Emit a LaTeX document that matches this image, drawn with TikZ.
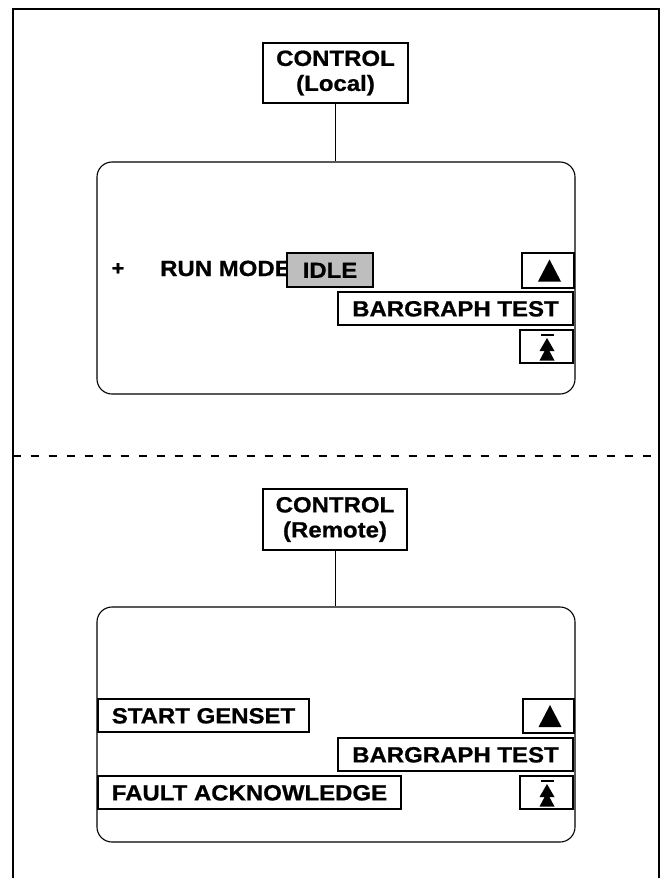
\documentclass[tikz,border=0pt]{standalone}
\usepackage{fontspec}
\setmainfont{Liberation Sans}[FakeStretch=1.09, BoldFeatures={FakeBold=0.8}]
\newcommand{\lbf}{\fontsize{22}{25}\selectfont\bfseries}
\begin{document}
\begin{tikzpicture}[x=1pt,y=-1pt,
  lbl/.style={draw, line width=1.7pt, fill=white, inner sep=0pt, font=\lbf,
    text height=15.8pt, text depth=0pt},
  ctl/.style={draw, line width=1.7pt, fill=white, inner sep=0pt, font=\lbf, align=center},
  scr/.style={draw, line width=1.1pt, rounded corners=15pt, fill=white, inner sep=0pt},
  link/.style={draw, line width=0.8pt},
  glyph/.style={fill=black}]
\useasboundingbox (0,0) rectangle (661,878);
% outer frame
\draw[line width=2pt] (12.5,880) -- (12.5,8.5) -- (659,8.5) -- (659,880);
% dashed separator
\coordinate (dl) at (12.5,456);
\coordinate (dr) at (659,456);
\draw[line width=2pt, dash pattern=on 8pt off 10pt] (dl) -- (dr);

% ---------- top (Local) ----------
\node[scr, minimum width=478pt, minimum height=232pt] (scrT) at (336,278) {};
\node[ctl, minimum width=145pt, minimum height=60pt] (ctlL) at (335.5,73) {CONTROL\\(Local)};
\draw[link] (ctlL.south) -- (ctlL.south |- scrT.north);

\node[font=\fontsize{20}{22}\selectfont\bfseries, inner sep=0pt] (plus) at (118,269) {+};
\node[font=\lbf, inner sep=0pt, anchor=base west] (run) at (160,276) {RUN MODE};
\node[lbl, fill={rgb,255:red,190;green,190;blue,190}, minimum width=86pt, minimum height=34pt] (idle) at (330,270) {IDLE};
\node[lbl, minimum width=52pt, minimum height=35pt] (upT) at (548,270.5) {};
\node[lbl, minimum width=235pt, minimum height=33pt] (bgT) at (455.5,308.5) {BARGRAPH TEST};
\node[lbl, minimum width=53pt, minimum height=33pt] (ttT) at (546.5,346.5) {};

% ---------- bottom (Remote) ----------
\node[scr, minimum width=478pt, minimum height=235pt] (scrB) at (336,724.5) {};
\node[ctl, minimum width=144pt, minimum height=61pt] (ctlR) at (335,519.5) {CONTROL\\(Remote)};
\draw[link] (ctlR.south) -- (ctlR.south |- scrB.north);

\node[lbl, minimum width=211pt, minimum height=33pt] (start) at (203.5,715.5) {START GENSET};
\node[lbl, minimum width=51pt, minimum height=34pt] (upB) at (548.5,716) {};
\node[lbl, minimum width=235pt, minimum height=33pt] (bgB) at (455.5,754.5) {BARGRAPH TEST};
\node[lbl, minimum width=303pt, minimum height=33pt] (fault) at (249.5,792.5) {FAULT ACKNOWLEDGE};
\node[lbl, minimum width=53pt, minimum height=33pt] (ttB) at (546.5,792.5) {};

% glyphs: up triangles
\foreach \n in {upT,upB}{
  \fill[glyph] (\n.center) ++(1.5,-11) -- ++(11.5,22) -- ++(-23,0) -- cycle;
}
% glyphs: to-top (bar + two triangles)
\foreach \n in {ttT,ttB}{
  \fill[glyph] (\n.center) ++(-6,-11) rectangle ++(13,-1.8);
  \fill[glyph] (\n.center) ++(0.5,-8.5) -- ++(7.5,13) -- ++(-15,0) -- cycle;
  \fill[glyph] (\n.center) ++(0.5,0) -- ++(7.5,14) -- ++(-15,0) -- cycle;
}
\end{tikzpicture}
\end{document}
